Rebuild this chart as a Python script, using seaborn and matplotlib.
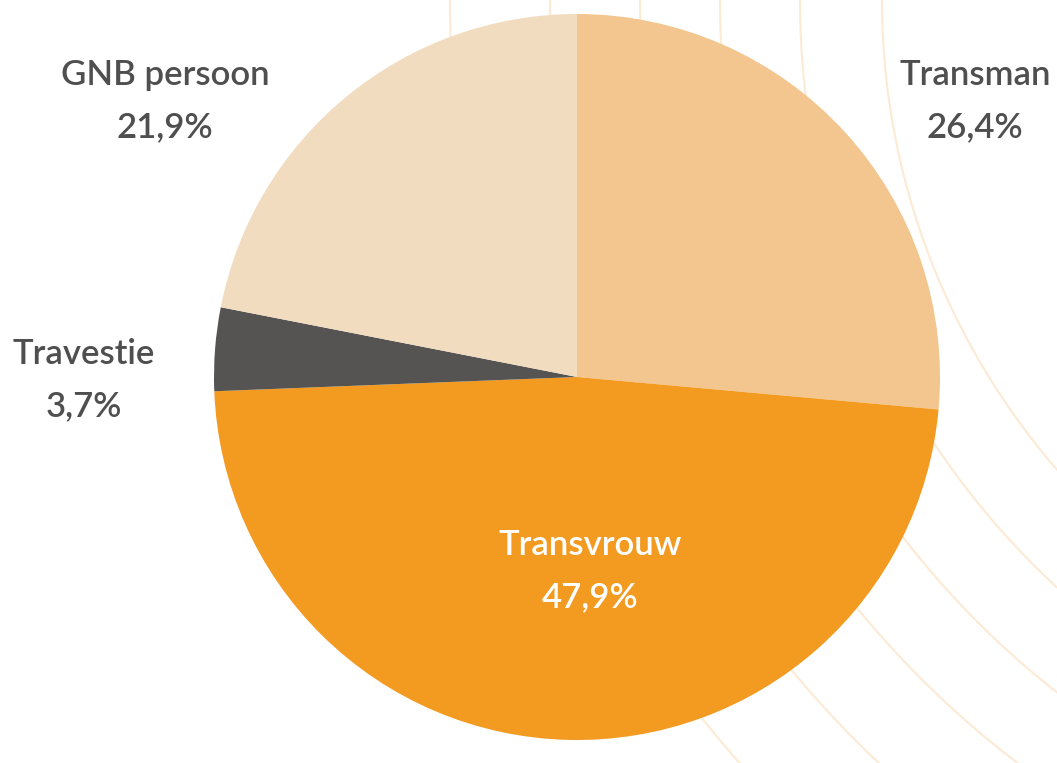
import numpy as np
import matplotlib
matplotlib.use("Agg")
import matplotlib.pyplot as plt
import seaborn as sns
from matplotlib.patches import Circle

# Daten
categories = ["Transman", "Transvrouw", "Travestie", "GNB persoon"]
shares = [26.4, 47.9, 3.7, 21.9]
pct_labels = ["26,4%", "47,9%", "3,7%", "21,9%"]
slice_colors = ["#F2C68E", "#F39A21", "#555452", "#F2DCBF"]
text_colors = ["#4F4F4F", "#FFFFFF", "#4F4F4F", "#4F4F4F"]

sns.set_theme(style="white")
plt.rcParams["font.family"] = ["Lato", "DejaVu Sans"]

W, H = 1057, 763
fig = plt.figure(figsize=(W / 100, H / 100), dpi=100)
ax = fig.add_axes([0, 0, 1, 1])

# dekorative Bögen im Hintergrund
for r in [718, 800, 880, 960, 1050, 1150]:
    ax.add_patch(Circle((1600, H), r, fill=False, edgecolor="#FDEAD5",
                        linewidth=1.5, zorder=0))

# Tortendiagramm
cx, cy, radius = 577, H - 377, 363
wedges, _ = ax.pie(shares, colors=slice_colors, startangle=90, counterclock=False,
                   center=(cx, cy), radius=radius,
                   wedgeprops=dict(linewidth=0, zorder=2))

# Beschriftungen (Position relativ zum Mittelpunkt)
offsets = [(398, 276), (13, -194), (-493, -3), (-412, 276)]
for name, pct, col, (dx, dy) in zip(categories, pct_labels, text_colors, offsets):
    ax.text(cx + dx, cy + dy, f"{name}\n{pct}", ha="center", va="center",
            multialignment="center", fontsize=25, color=col, linespacing=1.75,
            fontweight="semibold", zorder=3)

ax.set_xlim(0, W)
ax.set_ylim(0, H)
ax.set_aspect("equal")
ax.axis("off")

fig.savefig("out.png", dpi=100, facecolor="white")
